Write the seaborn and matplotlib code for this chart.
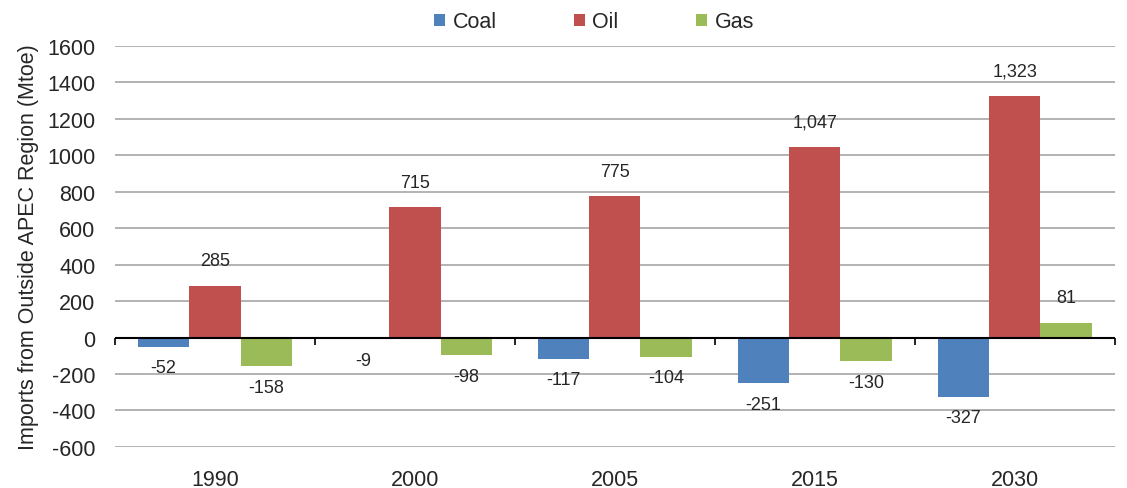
import pandas as pd
import matplotlib.pyplot as plt
import seaborn as sns

# Imports from outside APEC region by fuel (Mtoe)
years = ["1990", "2000", "2005", "2015", "2030"]
fuels = ["Coal", "Oil", "Gas"]
coal = [-52, -9, -117, -251, -327]
oil = [285, 715, 775, 1047, 1323]
gas = [-158, -98, -104, -130, 81]
colors = ["#4F81BD", "#C0504D", "#9BBB59"]
yticks = [-600, -400, -200, 0, 200, 400, 600, 800, 1000, 1200, 1400, 1600]

df = pd.DataFrame({
    "Year": years * 3,
    "Fuel": ["Coal"] * 5 + ["Oil"] * 5 + ["Gas"] * 5,
    "Value": coal + oil + gas,
})

sns.set_style("white")
plt.rcParams["font.family"] = ["Liberation Sans", "DejaVu Sans"]
plt.rcParams["axes.unicode_minus"] = False

fig = plt.figure(figsize=(11.27, 4.89), dpi=100)
ax = fig.add_axes([0.102, 0.084, 0.887, 0.82])

sns.barplot(data=df, x="Year", y="Value", hue="Fuel", order=years, hue_order=fuels,
            palette=colors, saturation=1, width=0.77, linewidth=0, ax=ax)

ax.set_ylim(-600, 1600)
ax.set_xlim(-0.5, len(years) - 0.5)
ax.set_yticks(yticks)
ax.yaxis.grid(True, color="#A6A6A6", linewidth=1.2)
ax.set_axisbelow(True)
for s in ax.spines.values():
    s.set_visible(False)
ax.tick_params(axis="x", length=0, pad=16, labelsize=15.5)
ax.tick_params(axis="y", length=0, pad=14, labelsize=15.5)
ax.set_xlabel("")
ax.set_ylabel("Imports from Outside APEC Region (Mtoe)", fontsize=15.5, labelpad=6)

# zero line with category separator ticks
ax.axhline(0, color="black", linewidth=1.5, zorder=1.5)
sec = ax.secondary_xaxis(600 / 2200)
sec.set_xticks([i - 0.5 for i in range(len(years) + 1)])
sec.set_xticklabels([])
sec.tick_params(bottom=True, direction="out", length=5, width=1.2, color="black")
sec.spines["bottom"].set_visible(False)

# data labels
for cont in ax.containers:
    for bar in cont:
        v = bar.get_height()
        x = bar.get_x() + bar.get_width() / 2
        off = 18 if v >= 0 else -15
        ax.annotate(f"{v:,.0f}", (x, v), xytext=(0, off), textcoords="offset points",
                    ha="center", va="center", fontsize=13)

handles, labels = ax.get_legend_handles_labels()
ax.get_legend().remove()
fig.legend(handles, labels, loc="center", bbox_to_anchor=(0.527, 0.953), ncol=3,
           frameon=False, fontsize=15.5, handlelength=0.5, handleheight=0.5,
           handletextpad=0.35, columnspacing=3.6)

fig.savefig("out.png", dpi=100)
